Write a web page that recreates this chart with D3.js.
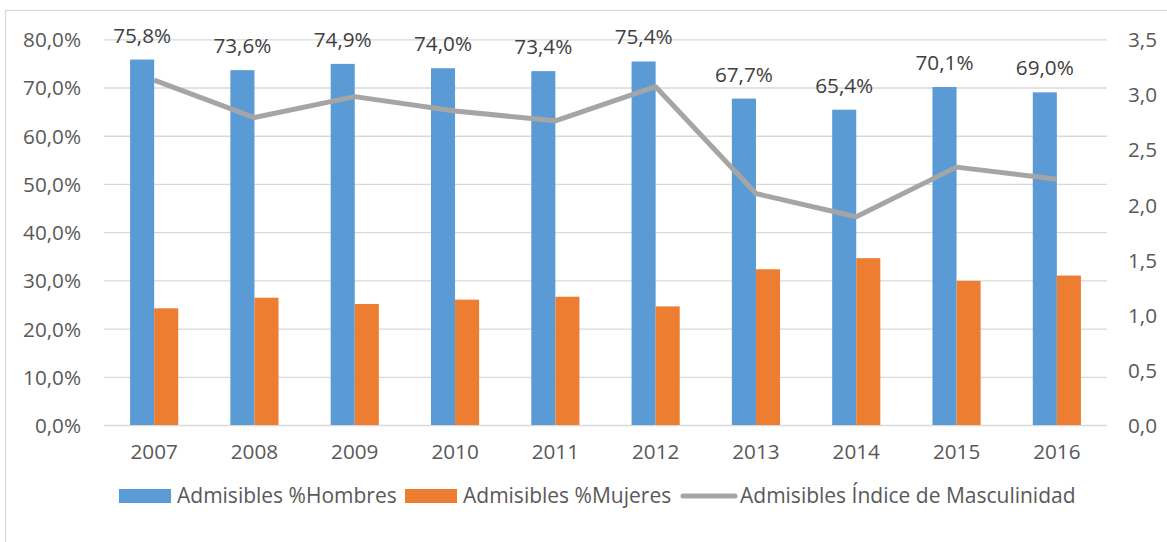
<!DOCTYPE html>
<html>
<head>
<meta charset="utf-8">
<script src="https://cdn.jsdelivr.net/npm/d3@7"></script>
<style>
  html, body { margin: 0; padding: 0; background: #fff; }
  svg { display: block; font-family: "Open Sans", "Liberation Sans", Arial, sans-serif; }
</style>
</head>
<body>
<div id="canvas"></div>
<script>
// datos
var anios = ["2007", "2008", "2009", "2010", "2011", "2012", "2013", "2014", "2015", "2016"];
var hombres = [75.8, 73.6, 74.9, 74.0, 73.4, 75.4, 67.7, 65.4, 70.1, 69.0];
var mujeres = [24.2, 26.4, 25.1, 26.0, 26.6, 24.6, 32.3, 34.6, 29.9, 31.0];
var indice = [3.13, 2.79, 2.98, 2.85, 2.76, 3.07, 2.10, 1.89, 2.34, 2.23];
var ticksIzq = [0, 10, 20, 30, 40, 50, 60, 70, 80];
var ticksDer = [0, 0.5, 1, 1.5, 2, 2.5, 3, 3.5];
var nombresSeries = ["Admisibles %Hombres", "Admisibles %Mujeres", "Admisibles Índice de Masculinidad"];

var width = 1167;
var height = 542;
var margin = {top: 39.3, right: 60, bottom: 117, left: 104};
var fuente = "Open Sans, Liberation Sans, Arial, sans-serif";
var tamFuente = "20.7px";
var colorTexto = "#595959";
var colores = ["#5b9bd5", "#ed7d31", "#a5a5a5"];

var loc = d3.formatLocale({decimal: ",", thousands: ".", grouping: [3], currency: ["", "€"]});
var fmt1 = loc.format(".1f");

var svg = d3.select("#canvas").append("svg")
    .attr("width", width)
    .attr("height", height);

// marco del gráfico
svg.append("rect")
    .attr("x", 5.5).attr("y", 10.5)
    .attr("width", width + 10).attr("height", height + 10)
    .attr("fill", "none")
    .attr("stroke", "#d9d9d9")
    .attr("stroke-width", 1.3);

var innerW = 1107 - margin.left;
var innerH = 425 - margin.top;

var g = svg.append("g")
    .attr("transform", "translate(" + margin.left + "," + margin.top + ")");

var x = d3.scaleBand()
    .domain(anios)
    .range([0, innerW])
    .paddingInner(0.52)
    .paddingOuter(0.26);

var xSub = d3.scaleBand()
    .domain([0, 1])
    .range([0, x.bandwidth()]);

var y = d3.scaleLinear().domain([0, 80]).range([innerH, 0]);
var y2 = d3.scaleLinear().domain([0, 3.5]).range([innerH, 0]);

// líneas de cuadrícula
g.append("g")
    .attr("class", "grid")
    .call(d3.axisLeft(y).tickValues(ticksIzq).tickSize(-innerW).tickFormat(""))
    .call(function (s) {
        s.select(".domain").remove();
        s.selectAll("line").attr("stroke", "#d9d9d9").attr("stroke-width", 1.3);
    });

function estiloTexto(s) {
    s.select(".domain").remove();
    s.selectAll("text")
        .attr("fill", colorTexto)
        .attr("font-size", tamFuente)
        .attr("font-family", fuente);
}

// eje izquierdo
g.append("g")
    .call(d3.axisLeft(y).tickValues(ticksIzq).tickSize(0).tickPadding(23)
        .tickFormat(function (d) { return fmt1(d) + "%"; }))
    .call(estiloTexto)
    .selectAll("text").attr("dy", "0.36em");

// eje derecho
g.append("g")
    .attr("transform", "translate(" + innerW + ",0)")
    .call(d3.axisRight(y2).tickValues(ticksDer).tickSize(0).tickPadding(21)
        .tickFormat(function (d) { return fmt1(d); }))
    .call(estiloTexto)
    .selectAll("text").attr("dy", "0.36em");

// eje inferior (años)
g.append("g")
    .attr("transform", "translate(0," + innerH + ")")
    .call(d3.axisBottom(x).tickSize(0).tickPadding(19))
    .call(estiloTexto)
    .selectAll("text").attr("dy", "0.71em");

var datosBarras = anios.map(function (a, i) {
    return {anio: a, valores: [hombres[i], mujeres[i]]};
});

var grupos = g.selectAll(".grupo")
    .data(datosBarras)
    .enter().append("g")
    .attr("class", "grupo")
    .attr("transform", function (d) { return "translate(" + x(d.anio) + ",0)"; });

grupos.selectAll("rect")
    .data(function (d) { return d.valores.map(function (v, k) { return {k: k, v: v}; }); })
    .enter().append("rect")
    .attr("x", function (d) { return xSub(d.k); })
    .attr("y", function (d) { return y(d.v); })
    .attr("width", xSub.bandwidth())
    .attr("height", function (d) { return y(0) - y(d.v); })
    .attr("fill", function (d) { return colores[d.k]; });

// etiquetas de datos sobre las barras de hombres
grupos.append("text")
    .attr("x", xSub(0) + xSub.bandwidth() / 2)
    .attr("y", function (d) { return y(d.valores[0]) - 17; })
    .attr("text-anchor", "middle")
    .attr("font-size", tamFuente)
    .attr("font-family", fuente)
    .attr("fill", "#404040")
    .text(function (d) { return fmt1(d.valores[0]) + "%"; });

// línea del índice
var linea = d3.line()
    .x(function (d, i) { return x(anios[i]) + x.bandwidth() / 2; })
    .y(function (d) { return y2(d); });

g.append("path")
    .datum(indice)
    .attr("d", linea)
    .attr("fill", "none")
    .attr("stroke", colores[2])
    .attr("stroke-width", 5)
    .attr("stroke-linejoin", "round");

// leyenda
var leyenda = svg.append("g").attr("class", "leyenda");
var posLeyenda = [119, 405, 681];

nombresSeries.forEach(function (nombre, i) {
    var item = leyenda.append("g")
        .attr("transform", "translate(" + posLeyenda[i] + ",0)");
    if (i < 2) {
        item.append("rect")
            .attr("x", 0).attr("y", 489)
            .attr("width", 52).attr("height", 14)
            .attr("fill", colores[i]);
    } else {
        item.append("line")
            .attr("x1", 2).attr("x2", 54)
            .attr("y1", 496).attr("y2", 496)
            .attr("stroke", colores[i])
            .attr("stroke-width", 5)
            .attr("stroke-linecap", "round");
    }
    item.append("text")
        .attr("x", i < 2 ? 58 : 59)
        .attr("y", 503)
        .attr("font-size", "21px")
        .attr("font-family", fuente)
        .attr("fill", colorTexto)
        .text(nombre);
});
</script>
</body>
</html>
